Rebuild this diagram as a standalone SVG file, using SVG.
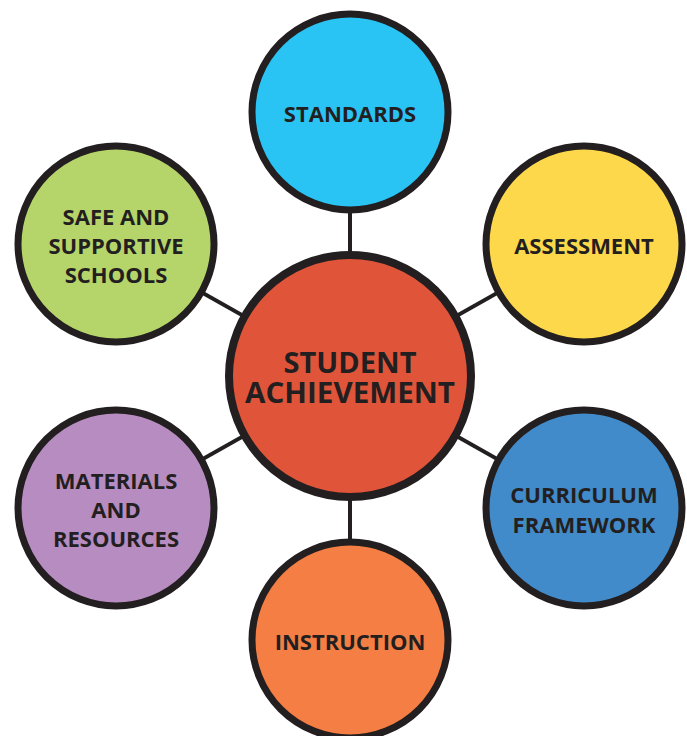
<svg xmlns="http://www.w3.org/2000/svg" width="687" height="736" viewBox="0 0 687 736">
<style>
.n{stroke:#231f20;stroke-width:7}
.c{stroke:#231f20;stroke-width:4}
text{font-family:"Open Sans","Liberation Sans",sans-serif;font-weight:bold;fill:#231f20;text-anchor:middle;font-size:22px}
.big{font-size:28px}
</style>
<rect width="687" height="736" fill="#ffffff"/>
<g id="connectors">
<line class="c" x1="350" y1="376" x2="350" y2="112"/>
<line class="c" x1="350" y1="376" x2="584" y2="244"/>
<line class="c" x1="350" y1="376" x2="584" y2="508"/>
<line class="c" x1="350" y1="376" x2="350" y2="640"/>
<line class="c" x1="350" y1="376" x2="116" y2="508"/>
<line class="c" x1="350" y1="376" x2="116" y2="244"/>
</g>
<g id="standards"><circle class="n" cx="350" cy="112" r="98" fill="#29c4f4"/><text x="350" y="121.5">STANDARDS</text></g>
<g id="assessment"><circle class="n" cx="584" cy="244" r="98" fill="#fdd84a"/><text x="584" y="253.5">ASSESSMENT</text></g>
<g id="curriculum"><circle class="n" cx="584" cy="508" r="98" fill="#418bca"/><text x="584" y="502.5">CURRICULUM</text><text x="584" y="532.5">FRAMEWORK</text></g>
<g id="instruction"><circle class="n" cx="350" cy="640" r="98" fill="#f47e43"/><text x="350" y="649.5">INSTRUCTION</text></g>
<g id="materials"><circle class="n" cx="116" cy="508" r="98" fill="#b68cc1"/><text x="116" y="489">MATERIALS</text><text x="116" y="518">AND</text><text x="116" y="547">RESOURCES</text></g>
<g id="safe"><circle class="n" cx="116" cy="244" r="98" fill="#b5d56a"/><text x="116" y="225">SAFE AND</text><text x="116" y="254">SUPPORTIVE</text><text x="116" y="283">SCHOOLS</text></g>
<g id="student-achievement"><circle cx="350" cy="376" r="121" fill="#e0553a" stroke="#231f20" stroke-width="8"/><text class="big" x="350" y="373" textLength="133" lengthAdjust="spacingAndGlyphs">STUDENT</text><text class="big" x="350" y="403" textLength="210" lengthAdjust="spacingAndGlyphs">ACHIEVEMENT</text></g>
</svg>
